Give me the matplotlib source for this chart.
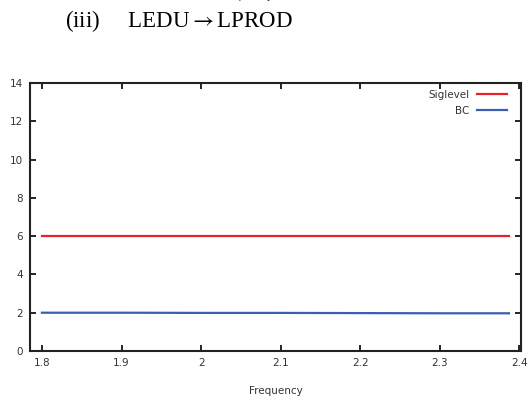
import matplotlib
matplotlib.use('Agg')
import matplotlib.pyplot as plt

plt.rcParams['mathtext.fontset'] = 'stix'

# Significance level and bootstrap causality statistic across frequency
freq = [1.80, 1.90, 2.00, 2.10, 2.20, 2.30, 2.387]
siglevel = [6.0, 6.0, 6.0, 6.0, 6.0, 6.0, 6.0]
bc = [2.00, 2.00, 1.99, 1.99, 1.98, 1.97, 1.97]

xticks = [1.8, 1.9, 2.0, 2.1, 2.2, 2.3, 2.4]
xticklabels = ['1.8', '1.9', '2', '2.1', '2.2', '2.3', '2.4']
yticks = [0, 2, 4, 6, 8, 10, 12, 14]

fig = plt.figure(figsize=(5.31, 4.01), dpi=100)
ax = fig.add_axes([0.0565, 0.1247, 0.9245, 0.6683])

ax.plot(freq, siglevel, color='#e8202a', linewidth=1.6, label='Siglevel')
ax.plot(freq, bc, color='#3a5fb0', linewidth=1.6, label='BC')

ax.set_xlim(1.785, 2.402)
ax.set_ylim(0, 14)
ax.set_xticks(xticks)
ax.set_xticklabels(xticklabels)
ax.set_yticks(yticks)
ax.tick_params(direction='in', length=4, width=1.2, labelsize=7.5,
               colors='black', labelcolor='#333333', top=True, right=True, pad=5)
for s in ax.spines.values():
    s.set_linewidth(1.5)
    s.set_color('#222222')

ax.set_xlabel('Frequency', fontsize=7.5, color='#333333', labelpad=13)
ax.legend(loc='upper right', bbox_to_anchor=(0.98, 0.99), frameon=False,
          markerfirst=False, fontsize=7.5, handlelength=2.9, labelspacing=0.55,
          borderaxespad=0.0, handletextpad=0.7, labelcolor='#333333')

# heading above the panel, and the cut-off axis label of the panel above
fig.text(0.122, 0.947, r'(iii)     LEDU$\rightarrow$LPROD', fontsize=16.5,
         family='Liberation Serif', va='center', ha='left')
fig.text(0.463, 1.009, 'Frequency', fontsize=7.5, color='#333333',
         ha='center', va='center')

fig.savefig('out.png', dpi=100)
